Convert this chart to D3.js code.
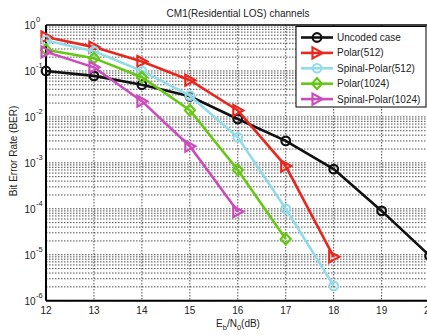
<!DOCTYPE html>
<html>
<head>
<meta charset="utf-8">
<script src="https://cdn.jsdelivr.net/npm/d3@7/dist/d3.min.js"></script>
<style>
  body { margin: 0; background: #fff; }
  svg { display: block; font-family: 'Liberation Sans', Arial, sans-serif; }
</style>
</head>
<body>
<div id="chart"></div>
<script>
const snr = [12, 13, 14, 15, 16, 17, 18, 19, 20];
const uncoded = [0.1, 0.078, 0.05, 0.028, 0.009, 0.003, 0.00073, 0.00009, 0.0000095];
const polar512 = [0.55, 0.33, 0.16, 0.063, 0.0138, 0.00085, 0.000009];
const spinal512 = [0.46, 0.27, 0.1, 0.029, 0.0036, 0.0001, 0.0000021];
const polar1024 = [0.29, 0.19, 0.073, 0.014, 0.0007, 0.000022];
const spinal1024 = [0.26, 0.12, 0.022, 0.0023, 0.000087];
const xTicks = [12, 13, 14, 15, 16, 17, 18, 19, 20];
const yExps = [0, -1, -2, -3, -4, -5, -6];

const series = [
  { name: 'Uncoded case', values: uncoded, color: '#111111', marker: 'circle' },
  { name: 'Polar(512)', values: polar512, color: '#e8281e', marker: 'tri' },
  { name: 'Spinal-Polar(512)', values: spinal512, color: '#92dbe9', marker: 'circle' },
  { name: 'Polar(1024)', values: polar1024, color: '#66c814', marker: 'diamond' },
  { name: 'Spinal-Polar(1024)', values: spinal1024, color: '#cc4cbc', marker: 'tri' }
];

const w = 427, h = 335;
const pLeft = 46, pRight = 429.6, pTop = 25, pBottom = 300.7;

const x = d3.scaleLinear().domain([12, 20]).range([pLeft, pRight]);
const y = d3.scaleLog().domain([1e-6, 1]).range([pBottom, pTop]);

const svg = d3.select('#chart').append('svg')
  .attr('width', w)
  .attr('height', h);

// grid
const grid = svg.append('g')
  .attr('stroke', '#222')
  .attr('stroke-width', 0.8)
  .attr('stroke-dasharray', '1.5,1.5');

const yGrid = [];
for (let e = -6; e < 0; e++) {
  for (let k = 1; k < 10; k++) yGrid.push(k * Math.pow(10, e));
}
grid.selectAll('.hg').data(yGrid).enter().append('line')
  .attr('x1', pLeft).attr('x2', pRight)
  .attr('y1', d => y(d)).attr('y2', d => y(d));
grid.selectAll('.vg').data(xTicks.slice(1, -1)).enter().append('line')
  .attr('y1', pTop).attr('y2', pBottom)
  .attr('x1', d => x(d)).attr('x2', d => x(d));

// frame
svg.append('line').attr('x1', pLeft).attr('x2', pRight).attr('y1', pTop).attr('y2', pTop)
  .attr('stroke', '#000').attr('stroke-width', 1.5);
svg.append('line').attr('x1', pLeft).attr('x2', pRight).attr('y1', pBottom).attr('y2', pBottom)
  .attr('stroke', '#000').attr('stroke-width', 2);
svg.append('line').attr('x1', pLeft).attr('x2', pLeft).attr('y1', pTop).attr('y2', pBottom)
  .attr('stroke', '#000').attr('stroke-width', 2);

// tick labels
svg.selectAll('.xt').data(xTicks).enter().append('text')
  .attr('x', d => x(d))
  .attr('y', 314)
  .attr('text-anchor', 'middle')
  .attr('font-size', 10)
  .attr('fill', '#222')
  .text(d => d);

svg.selectAll('.yt').data(yExps).enter().append('text')
  .attr('x', 35.5)
  .attr('y', d => y(Math.pow(10, d)) + 4)
  .attr('text-anchor', 'end')
  .attr('font-size', 10)
  .attr('fill', '#222')
  .text('10');
svg.selectAll('.ye').data(yExps).enter().append('text')
  .attr('x', 36)
  .attr('y', d => y(Math.pow(10, d)) - 3)
  .attr('font-size', 7.5)
  .attr('fill', '#222')
  .text(d => d);

// titles
svg.append('text')
  .attr('x', 238).attr('y', 17)
  .attr('text-anchor', 'middle')
  .attr('font-size', 10)
  .attr('fill', '#222')
  .text('CM1(Residential LOS) channels');

const xl = svg.append('text')
  .attr('x', 238).attr('y', 327)
  .attr('text-anchor', 'middle')
  .attr('font-size', 10)
  .attr('fill', '#222');
xl.append('tspan').text('E');
xl.append('tspan').attr('font-size', 7.5).attr('dy', 3).text('b');
xl.append('tspan').attr('dy', -3).text('/N');
xl.append('tspan').attr('font-size', 7.5).attr('dy', 3).text('0');
xl.append('tspan').attr('dy', -3).text('(dB)');

svg.append('text')
  .attr('transform', 'translate(16.5,151) rotate(-90)')
  .attr('text-anchor', 'middle')
  .attr('font-size', 10)
  .attr('fill', '#222')
  .text('Bit Error Rate (BER)');

// markers
function drawMarker(g, type, color, cx, cy) {
  if (type === 'circle') {
    g.append('circle').attr('cx', cx).attr('cy', cy).attr('r', 4.3)
      .attr('fill', 'none').attr('stroke', color).attr('stroke-width', 2.2);
  } else if (type === 'tri') {
    g.append('path')
      .attr('d', 'M' + (cx - 4.5) + ',' + (cy - 5.5) + 'L' + (cx + 5.5) + ',' + cy + 'L' + (cx - 4.5) + ',' + (cy + 5.5) + 'Z')
      .attr('fill', 'none').attr('stroke', color).attr('stroke-width', 2.2);
  } else {
    g.append('path')
      .attr('d', 'M' + cx + ',' + (cy - 5.5) + 'L' + (cx + 5) + ',' + cy + 'L' + cx + ',' + (cy + 5.5) + 'L' + (cx - 5) + ',' + cy + 'Z')
      .attr('fill', 'none').attr('stroke', color).attr('stroke-width', 2.2);
  }
}

svg.append('clipPath').attr('id', 'clip')
  .append('rect').attr('x', 0).attr('y', pTop - 8).attr('width', w).attr('height', pBottom - pTop + 8);

const line = d3.line()
  .x((d, i) => x(snr[i]))
  .y(d => y(d));

const plot = svg.append('g').attr('clip-path', 'url(#clip)');
series.forEach(s => {
  plot.append('path')
    .attr('d', line(s.values))
    .attr('fill', 'none')
    .attr('stroke', s.color)
    .attr('stroke-width', 2.6);
  const g = plot.append('g');
  s.values.forEach((v, i) => drawMarker(g, s.marker, s.color, x(snr[i]), y(v)));
});

// legend
const lg = svg.append('g');
lg.append('rect')
  .attr('x', 296).attr('y', 26.5)
  .attr('width', 130).attr('height', 80.5)
  .attr('fill', '#fff')
  .attr('stroke', '#000')
  .attr('stroke-width', 1);
series.forEach((s, i) => {
  const ly = 37.5 + i * 15.4;
  lg.append('line')
    .attr('x1', 301).attr('x2', 333)
    .attr('y1', ly).attr('y2', ly)
    .attr('stroke', s.color).attr('stroke-width', 2.6);
  drawMarker(lg, s.marker, s.color, 317, ly);
  lg.append('text')
    .attr('x', 337).attr('y', ly + 3.5)
    .attr('font-size', 10)
    .attr('fill', '#222')
    .text(s.name);
});
</script>
</body>
</html>
